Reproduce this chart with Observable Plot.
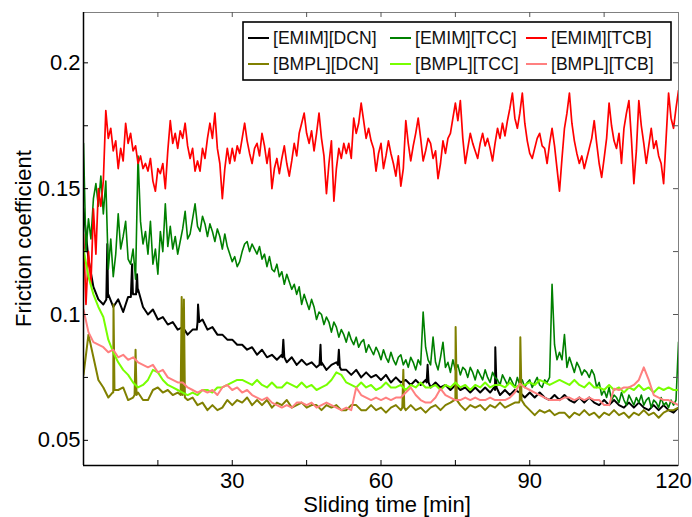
<!DOCTYPE html>
<html>
<head>
<meta charset="utf-8">
<script src="https://cdn.jsdelivr.net/npm/d3@7"></script>
<script src="https://cdn.jsdelivr.net/npm/@observablehq/plot@0.6"></script>
<style>
  body { margin: 0; background: #fff; }
  #chart svg { display: block; font-family: "Liberation Sans", Arial, sans-serif; }
</style>
</head>
<body>
<div id="chart"></div>
<script>
// Friction coefficient vs. sliding time for six ionic liquids.
// Two sampling steps: 0.5 min for the noisiest traces, 1 min for the others.
const fineStep = 0.5;
const coarseStep = 1;

// [EMIM][TCB], sampled every 0.5 min (0 .. 120)
const emimTCB = [
  0.132, 0.104, 0.125, 0.112, 0.142, 0.124, 0.150, 0.143, 0.153, 0.181,
  0.170, 0.174, 0.165, 0.169, 0.158, 0.166, 0.161, 0.176, 0.168, 0.172,
  0.165, 0.167, 0.160, 0.163, 0.158, 0.160, 0.157, 0.162, 0.153, 0.149,
  0.158, 0.156, 0.160, 0.150, 0.165, 0.177, 0.168, 0.172, 0.166, 0.173,
  0.170, 0.176, 0.167, 0.162, 0.166, 0.157, 0.161, 0.157, 0.166, 0.162,
  0.170, 0.176, 0.170, 0.180, 0.166, 0.160, 0.146, 0.158, 0.166, 0.160,
  0.166, 0.161, 0.167, 0.164, 0.170, 0.176, 0.169, 0.164, 0.160, 0.166,
  0.168, 0.163, 0.172, 0.167, 0.160, 0.166, 0.150, 0.158, 0.162, 0.156,
  0.162, 0.167, 0.160, 0.155, 0.161, 0.168, 0.163, 0.172, 0.176, 0.180,
  0.172, 0.168, 0.173, 0.165, 0.172, 0.180, 0.170, 0.163, 0.148, 0.160,
  0.169, 0.145, 0.158, 0.166, 0.162, 0.168, 0.164, 0.168, 0.162, 0.178,
  0.172, 0.176, 0.184, 0.177, 0.170, 0.174, 0.169, 0.166, 0.157, 0.164,
  0.168, 0.158, 0.163, 0.169, 0.164, 0.160, 0.155, 0.163, 0.151, 0.158,
  0.177, 0.168, 0.161, 0.167, 0.172, 0.178, 0.170, 0.161, 0.165, 0.170,
  0.168, 0.162, 0.165, 0.154, 0.160, 0.169, 0.164, 0.170, 0.172, 0.178,
  0.184, 0.177, 0.185, 0.170, 0.160, 0.166, 0.172, 0.168, 0.165, 0.162,
  0.168, 0.172, 0.167, 0.170, 0.166, 0.161, 0.168, 0.174, 0.170, 0.176,
  0.171, 0.177, 0.182, 0.188, 0.178, 0.174, 0.180, 0.188, 0.176, 0.169,
  0.164, 0.162, 0.166, 0.170, 0.172, 0.167, 0.166, 0.160, 0.168, 0.174,
  0.167, 0.158, 0.149, 0.162, 0.174, 0.180, 0.188, 0.176, 0.169, 0.164,
  0.160, 0.163, 0.158, 0.162, 0.166, 0.170, 0.177, 0.168, 0.160, 0.1545,
  0.162, 0.170, 0.184, 0.175, 0.169, 0.166, 0.172, 0.160, 0.174, 0.180,
  0.185, 0.170, 0.152, 0.165, 0.185, 0.175, 0.168, 0.160, 0.167, 0.174,
  0.166, 0.169, 0.163, 0.160, 0.152, 0.170, 0.188, 0.178, 0.174, 0.182,
  0.189
];

// [EMIM][TCC], sampled every 0.5 min (0 .. 120)
const emimTCC = [
  0.168, 0.125, 0.138, 0.130, 0.146, 0.152, 0.143, 0.155, 0.140, 0.153,
  0.118, 0.130, 0.115, 0.124, 0.140, 0.126, 0.131, 0.137, 0.122, 0.120,
  0.126, 0.114, 0.163, 0.137, 0.128, 0.133, 0.124, 0.137, 0.120, 0.126,
  0.116, 0.133, 0.125, 0.144, 0.127, 0.135, 0.126, 0.131, 0.124, 0.129,
  0.134, 0.141, 0.130, 0.132, 0.138, 0.144, 0.135, 0.133, 0.139, 0.136,
  0.131, 0.136, 0.133, 0.129, 0.134, 0.131, 0.126, 0.132, 0.127, 0.124,
  0.121, 0.123, 0.119, 0.121, 0.125, 0.128, 0.129, 0.125, 0.128, 0.126,
  0.124, 0.127, 0.122, 0.124, 0.119, 0.123, 0.118, 0.117, 0.120, 0.115,
  0.117, 0.112, 0.116, 0.113, 0.110, 0.112, 0.108, 0.111, 0.104, 0.108,
  0.105, 0.102, 0.106, 0.103, 0.098, 0.101, 0.100, 0.096, 0.099, 0.097,
  0.093, 0.097, 0.095, 0.091, 0.094, 0.092, 0.089, 0.093, 0.090, 0.088,
  0.091, 0.087, 0.089, 0.090, 0.085, 0.088, 0.086, 0.084, 0.087, 0.085,
  0.082, 0.086, 0.083, 0.081, 0.085, 0.082, 0.080, 0.083, 0.084, 0.080,
  0.082, 0.079, 0.083, 0.081, 0.078, 0.082, 0.080, 0.101, 0.087, 0.082,
  0.080, 0.091, 0.081, 0.078, 0.083, 0.089, 0.079, 0.081, 0.077, 0.082,
  0.078, 0.080, 0.076, 0.079, 0.078, 0.075, 0.079, 0.077, 0.074, 0.078,
  0.076, 0.074, 0.078, 0.075, 0.073, 0.077, 0.075, 0.074, 0.072, 0.076,
  0.074, 0.072, 0.075, 0.073, 0.071, 0.075, 0.072, 0.074, 0.071, 0.073,
  0.074, 0.071, 0.073, 0.075, 0.072, 0.071, 0.074, 0.073, 0.075, 0.112,
  0.088, 0.082, 0.085, 0.082, 0.092, 0.079, 0.083, 0.080, 0.077, 0.081,
  0.079, 0.076, 0.078, 0.077, 0.075, 0.078, 0.076, 0.071, 0.073, 0.068,
  0.070, 0.067, 0.071, 0.066, 0.068, 0.067, 0.065, 0.069, 0.066, 0.064,
  0.068, 0.066, 0.064, 0.067, 0.065, 0.068, 0.064, 0.066, 0.067, 0.063,
  0.066, 0.065, 0.063, 0.067, 0.064, 0.065, 0.063, 0.066, 0.064, 0.066,
  0.089
];

// [EMIM][DCN], sampled every 1 min (0 .. 120)
const emimDCN = [
  0.142, 0.122, 0.111, 0.106, 0.104, 0.108, 0.103, 0.106, 0.101, 0.107,
  0.108, 0.110, 0.103, 0.100, 0.102, 0.098, 0.099, 0.096, 0.097, 0.094,
  0.095, 0.092, 0.094, 0.097, 0.098, 0.094, 0.095, 0.092, 0.092, 0.090,
  0.090, 0.088, 0.088, 0.086, 0.087, 0.084, 0.086, 0.083, 0.084, 0.082,
  0.084, 0.081, 0.083, 0.080, 0.082, 0.080, 0.081, 0.079, 0.081, 0.078,
  0.080, 0.081, 0.078, 0.078, 0.076, 0.078, 0.075, 0.077, 0.075, 0.076,
  0.074, 0.076, 0.073, 0.075, 0.073, 0.074, 0.072, 0.074, 0.072, 0.074,
  0.071, 0.073, 0.071, 0.072, 0.070, 0.072, 0.070, 0.071, 0.069, 0.071,
  0.069, 0.071, 0.069, 0.070, 0.068, 0.070, 0.068, 0.070, 0.069, 0.067,
  0.069, 0.067, 0.069, 0.067, 0.066, 0.068, 0.066, 0.068, 0.066, 0.065,
  0.067, 0.065, 0.067, 0.065, 0.064, 0.066, 0.064, 0.066, 0.064, 0.063,
  0.065, 0.063, 0.065, 0.063, 0.062, 0.064, 0.062, 0.064, 0.062, 0.061,
  0.063
];
// short spikes between the 1-min samples: [minute, value]
const emimDCNSpikes = [
  [4.6, 0.106], [4.8, 0.128], [4.95, 0.107],
  [9.55, 0.107], [9.8, 0.120], [9.95, 0.109],
  [10.6, 0.108], [10.8, 0.116], [10.95, 0.109],
  [22.85, 0.094], [23.1, 0.104], [23.35, 0.097],
  [40.1, 0.083], [40.3, 0.090], [40.5, 0.083],
  [47.6, 0.080], [47.8, 0.088], [47.95, 0.080],
  [51.3, 0.080], [51.5, 0.086], [51.7, 0.079],
  [69.2, 0.073], [69.4, 0.080], [69.6, 0.073],
  [82.8, 0.071], [83.05, 0.087], [83.3, 0.071]
];

// [BMPL][DCN], sampled every 1 min (0 .. 120)
const bmplDCN = [
  0.076, 0.092, 0.083, 0.074, 0.071, 0.067, 0.069, 0.070, 0.071, 0.066,
  0.067, 0.069, 0.066, 0.066, 0.070, 0.071, 0.069, 0.070, 0.068, 0.069,
  0.068, 0.066, 0.067, 0.064, 0.065, 0.062, 0.064, 0.062, 0.063, 0.066,
  0.064, 0.066, 0.065, 0.067, 0.064, 0.066, 0.064, 0.066, 0.063, 0.065,
  0.064, 0.066, 0.063, 0.064, 0.065, 0.063, 0.064, 0.064, 0.062, 0.064,
  0.063, 0.064, 0.062, 0.062, 0.064, 0.064, 0.062, 0.062, 0.064, 0.062,
  0.063, 0.061, 0.063, 0.064, 0.062, 0.062, 0.064, 0.062, 0.063, 0.061,
  0.063, 0.064, 0.062, 0.064, 0.065, 0.066, 0.064, 0.062, 0.064, 0.063,
  0.064, 0.062, 0.064, 0.063, 0.065, 0.063, 0.064, 0.065, 0.066, 0.064,
  0.062, 0.060, 0.062, 0.061, 0.062, 0.060, 0.061, 0.061, 0.059, 0.061,
  0.060, 0.062, 0.060, 0.061, 0.059, 0.061, 0.060, 0.062, 0.060, 0.061,
  0.059, 0.061, 0.060, 0.062, 0.060, 0.061, 0.059, 0.061, 0.062, 0.062,
  0.063
];
const bmplDCNSpikes = [
  [5.85, 0.069], [6.05, 0.104], [6.25, 0.070],
  [10.3, 0.068], [10.5, 0.086], [10.7, 0.068],
  [19.6, 0.068], [19.8, 0.107], [20.05, 0.070], [20.25, 0.106], [20.45, 0.067],
  [64.3, 0.063], [64.5, 0.078], [64.7, 0.063],
  [74.8, 0.066], [75.05, 0.095], [75.3, 0.066],
  [87.85, 0.065], [88.1, 0.091], [88.35, 0.066]
];

// [BMPL][TCC], sampled every 1 min (0 .. 120)
const bmplTCC = [
  0.126, 0.115, 0.108, 0.103, 0.099, 0.090, 0.085, 0.081, 0.078, 0.076,
  0.073, 0.071, 0.072, 0.074, 0.078, 0.077, 0.074, 0.072, 0.071, 0.070,
  0.069, 0.068, 0.069, 0.068, 0.070, 0.070, 0.069, 0.071, 0.071, 0.072,
  0.073, 0.074, 0.074, 0.073, 0.072, 0.074, 0.072, 0.071, 0.073, 0.071,
  0.071, 0.073, 0.072, 0.071, 0.073, 0.071, 0.072, 0.070, 0.071, 0.072,
  0.074, 0.077, 0.076, 0.073, 0.072, 0.071, 0.073, 0.071, 0.072, 0.070,
  0.071, 0.073, 0.071, 0.071, 0.072, 0.070, 0.072, 0.071, 0.073, 0.071,
  0.071, 0.072, 0.070, 0.072, 0.071, 0.073, 0.071, 0.072, 0.070, 0.072,
  0.071, 0.073, 0.071, 0.072, 0.072, 0.071, 0.073, 0.071, 0.072, 0.072,
  0.073, 0.072, 0.074, 0.073, 0.072, 0.073, 0.074, 0.073, 0.072, 0.074,
  0.072, 0.071, 0.073, 0.071, 0.071, 0.070, 0.072, 0.070, 0.071, 0.069,
  0.071, 0.070, 0.072, 0.070, 0.071, 0.069, 0.071, 0.070, 0.071, 0.070,
  0.070
];

// [BMPL][TCB], sampled every 1 min (0 .. 120)
const bmplTCB = [
  0.102, 0.093, 0.089, 0.088, 0.087, 0.085, 0.086, 0.083, 0.084, 0.082,
  0.083, 0.081, 0.080, 0.079, 0.080, 0.077, 0.078, 0.075, 0.074, 0.073,
  0.073, 0.071, 0.070, 0.069, 0.070, 0.069, 0.070, 0.068, 0.071, 0.072,
  0.070, 0.071, 0.069, 0.070, 0.068, 0.067, 0.066, 0.067, 0.065, 0.064,
  0.063, 0.064, 0.063, 0.065, 0.065, 0.064, 0.065, 0.063, 0.064, 0.065,
  0.064, 0.063, 0.062, 0.063, 0.062, 0.071, 0.068, 0.067, 0.066, 0.067,
  0.066, 0.067, 0.066, 0.067, 0.067, 0.069, 0.071, 0.068, 0.066, 0.065,
  0.065, 0.067, 0.0705, 0.068, 0.067, 0.066, 0.066, 0.067, 0.066, 0.067,
  0.066, 0.066, 0.067, 0.066, 0.066, 0.066, 0.067, 0.069, 0.0725, 0.071,
  0.070, 0.069, 0.068, 0.067, 0.066, 0.066, 0.066, 0.067, 0.067, 0.066,
  0.067, 0.066, 0.067, 0.066, 0.066, 0.064, 0.064, 0.0705, 0.070, 0.071,
  0.071, 0.072, 0.074, 0.079, 0.074, 0.068, 0.067, 0.066, 0.066, 0.065,
  0.064
];

// axis ticks
const xMinorTicks = [15, 30, 45, 60, 75, 90, 105];
const xTickLabels = [30, 60, 90];
const xLastTickLabel = [120];
const yMinorTicks = [0.05, 0.075, 0.1, 0.125, 0.15, 0.175, 0.2];
const yTickLabels = [0.05, 0.1, 0.15, 0.2];

const seriesNames = ["[EMIM][DCN]", "[EMIM][TCC]", "[EMIM][TCB]", "[BMPL][DCN]", "[BMPL][TCC]", "[BMPL][TCB]"];
const seriesColors = ["#000000", "#008000", "#ff0000", "#808000", "#77ff00", "#ff8080"];
const seriesWidths = [2, 1.6, 1.7, 2, 2, 2];

function toPoints(values, step, spikes = []) {
  const pts = values.map((v, i) => ({t: i * step, v}));
  for (const [t, v] of spikes) pts.push({t, v});
  return pts.sort((a, b) => a.t - b.t);
}

const series = {
  "[EMIM][DCN]": toPoints(emimDCN, coarseStep, emimDCNSpikes),
  "[EMIM][TCC]": toPoints(emimTCC, fineStep),
  "[EMIM][TCB]": toPoints(emimTCB, fineStep),
  "[BMPL][DCN]": toPoints(bmplDCN, coarseStep, bmplDCNSpikes),
  "[BMPL][TCC]": toPoints(bmplTCC, coarseStep),
  "[BMPL][TCB]": toPoints(bmplTCB, coarseStep)
};

const W = 692, H = 517;
const mL = 83, mR = 14, mT = 12, mB = 52;
const innerW = W - mL - mR, innerH = H - mT - mB;
const tickLen = 5;
const font = "'Liberation Sans', Arial, sans-serif";

const chart = Plot.plot({
  width: W,
  height: H,
  marginLeft: mL,
  marginRight: mR,
  marginTop: mT,
  marginBottom: mB,
  style: {fontFamily: font, background: "#fff", color: "#000"},
  x: {domain: [0, 120]},
  y: {domain: [0.04, 0.22]},
  marks: [
    Plot.frame({stroke: "#808080", strokeWidth: 1}),
    ...seriesNames.map((name, i) =>
      Plot.line(series[name], {
        x: "t",
        y: "v",
        stroke: seriesColors[i],
        strokeWidth: seriesWidths[i],
        strokeLinejoin: "round",
        clip: true
      })
    ),
    // inward tick marks on all four sides
    Plot.tickX(xMinorTicks, {x: (d) => d, insetTop: innerH - tickLen, stroke: "#000"}),
    Plot.tickX(xMinorTicks, {x: (d) => d, insetBottom: innerH - tickLen, stroke: "#555"}),
    Plot.tickY(yMinorTicks, {y: (d) => d, insetRight: innerW - tickLen, stroke: "#000"}),
    Plot.tickY(yMinorTicks, {y: (d) => d, insetLeft: innerW - tickLen, stroke: "#555"}),
    Plot.ruleX([0], {stroke: "#000", strokeWidth: 1.5}),
    Plot.ruleY([0.04], {stroke: "#000", strokeWidth: 1.5}),
    Plot.axisX({ticks: xTickLabels, tickSize: 0, tickPadding: 7, fontSize: 22, label: null}),
    Plot.axisX({ticks: xLastTickLabel, tickSize: 0, tickPadding: 7, fontSize: 22, label: null, dx: -5}),
    Plot.axisY({ticks: yTickLabels, tickSize: 0, tickPadding: 3, fontSize: 22, label: null, tickFormat: (d) => String(d)})
  ]
});

document.getElementById("chart").append(chart);

// axis titles and in-plot legend
const svg = d3.select(chart);
svg.append("text")
  .attr("x", 387).attr("y", 512)
  .attr("text-anchor", "middle")
  .attr("font-size", 22).attr("font-family", font)
  .attr("fill", "#000")
  .text("Sliding time [min]");
svg.append("text")
  .attr("transform", `translate(31,${mT + innerH / 2}) rotate(-90)`)
  .attr("text-anchor", "middle")
  .attr("font-size", 22).attr("font-family", font)
  .attr("fill", "#000")
  .text("Friction coefficient");

const legend = svg.append("g");
legend.append("rect")
  .attr("x", 243).attr("y", 22).attr("width", 428).attr("height", 58)
  .attr("fill", "#fff").attr("stroke", "#000").attr("stroke-width", 1.6);
const colX = [248, 390, 526];
const rowY = [38, 64];
seriesNames.forEach((name, i) => {
  const col = i % 3, row = Math.floor(i / 3);
  const x = colX[col], y = rowY[row];
  legend.append("line")
    .attr("x1", x).attr("x2", x + 21).attr("y1", y).attr("y2", y)
    .attr("stroke", seriesColors[i]).attr("stroke-width", 2);
  legend.append("text")
    .attr("x", x + 25).attr("y", y)
    .attr("dy", "0.35em")
    .attr("text-anchor", "start")
    .attr("font-size", 17.6).attr("font-family", font)
    .attr("fill", "#111")
    .text(name);
});
</script>
</body>
</html>
